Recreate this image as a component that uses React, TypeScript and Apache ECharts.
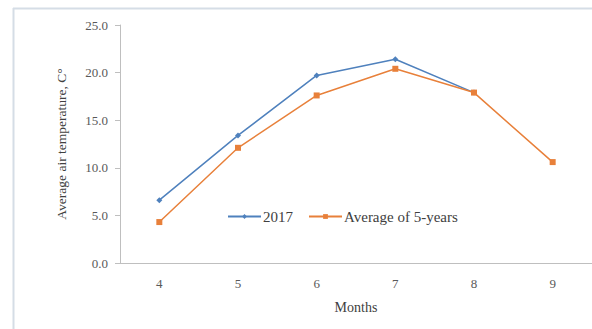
import React, { useEffect, useRef } from "react";
import * as echarts from "echarts";

const months = ["4", "5", "6", "7", "8", "9"];
const series2017 = [6.6, 13.4, 19.7, 21.4, 17.9, null];
const seriesAvg5 = [4.3, 12.1, 17.6, 20.4, 17.9, 10.6];
const seriesNames = ["2017", "Average of 5-years"];

export default function App() {
  const ref = useRef<HTMLDivElement>(null);
  useEffect(() => {
    if (!ref.current) return;
    const chart = echarts.init(ref.current, null, { renderer: "svg" });
    const font = "Liberation Serif";
    chart.setOption({
      animation: false,
      backgroundColor: "#ffffff",
      textStyle: { fontFamily: font },
      graphic: [
        { type: "line", shape: { x1: 13, y1: 8.5, x2: 592, y2: 8.5 }, style: { stroke: "#d5dde6", lineWidth: 2 } },
        { type: "line", shape: { x1: 13.5, y1: 8, x2: 13.5, y2: 329 }, style: { stroke: "#d5dde6", lineWidth: 2 } },
      ],
      legend: {
        data: seriesNames,
        left: 222,
        top: 204,
        itemGap: 15,
        itemWidth: 33,
        itemHeight: 6,
        textStyle: { fontFamily: font, fontSize: 15, color: "#404040", padding: [0, 0, 0, -3] },
      },
      grid: { left: 120, right: -2, top: 25, bottom: 66 },
      xAxis: {
        type: "category",
        data: months,
        boundaryGap: true,
        name: "Months",
        nameLocation: "middle",
        nameGap: 37,
        nameTextStyle: { fontFamily: font, fontSize: 14, color: "#404040" },
        axisLine: { lineStyle: { color: "#bfbfbf" } },
        axisTick: { show: false },
        axisLabel: { fontFamily: font, fontSize: 13, color: "#595959", margin: 14 },
      },
      yAxis: {
        type: "value",
        min: 0,
        max: 25,
        interval: 5,
        name: "Average air temperature, C°",
        nameLocation: "middle",
        nameGap: 52,
        nameTextStyle: { fontFamily: font, fontSize: 13.5, color: "#404040" },
        axisLine: { show: true, lineStyle: { color: "#bfbfbf" } },
        axisTick: { show: true, length: 5, lineStyle: { color: "#bfbfbf" } },
        splitLine: { show: false },
        axisLabel: {
          fontFamily: font,
          fontSize: 13,
          color: "#595959",
          margin: 12,
          formatter: (v: number) => v.toFixed(1),
        },
      },
      series: [
        {
          name: seriesNames[0],
          type: "line",
          data: series2017,
          symbol: "diamond",
          symbolSize: 6,
          lineStyle: { color: "#4f81bd", width: 1.5 },
          itemStyle: { color: "#4f81bd" },
        },
        {
          name: seriesNames[1],
          type: "line",
          data: seriesAvg5,
          symbol: "rect",
          symbolSize: 6,
          lineStyle: { color: "#e8803a", width: 1.5 },
          itemStyle: { color: "#e8803a" },
        },
      ],
    });
    return () => chart.dispose();
  }, []);
  return <div ref={ref} style={{ width: 592, height: 329, position: "absolute", left: 0, top: 0 }} />;
}
